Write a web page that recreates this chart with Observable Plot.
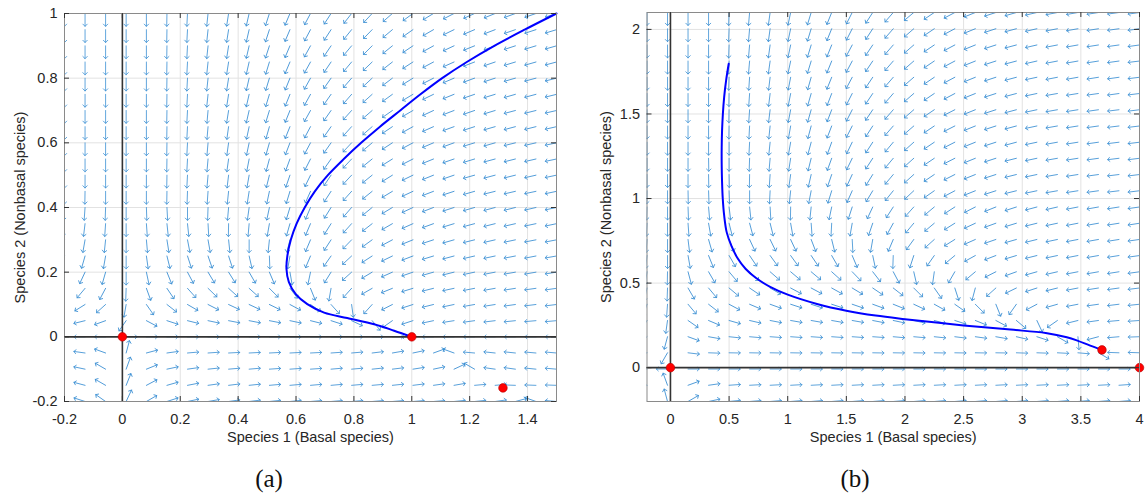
<!DOCTYPE html>
<html><head><meta charset="utf-8">
<script src="https://cdn.jsdelivr.net/npm/d3@7"></script>
<script src="https://cdn.jsdelivr.net/npm/@observablehq/plot@0.6"></script>
<style>
html,body{margin:0;padding:0;background:#fff}
body{width:1145px;height:499px;position:relative;overflow:hidden;font-family:"Liberation Sans",Arial,sans-serif}
#pa{position:absolute;left:0;top:0}
#pb{position:absolute;left:566px;top:0}
.cap{position:absolute;top:465px;font-family:"Liberation Serif","DejaVu Serif",serif;font-size:25px;color:#111;transform:translateX(-50%)}
</style></head><body>
<div id="pa"></div><div id="pb"></div>
<div class="cap" style="left:269px">(a)</div>
<div class="cap" style="left:855px">(b)</div>
<script>
// ---------- Panel (a) ----------
const xTicksA = [-0.2, 0, 0.2, 0.4, 0.6, 0.8, 1, 1.2, 1.4];
const yTicksA = [-0.2, 0, 0.2, 0.4, 0.6, 0.8, 1];
const gridXA = [-0.2,-0.129,-0.058,0.013,0.083,0.154,0.225,0.296,0.367,0.438,0.508,0.579,0.65,0.721,0.792,0.863,0.933,1.004,1.075,1.146,1.217,1.288,1.358,1.429,1.5];
const gridYA = [1,0.95,0.9,0.85,0.8,0.75,0.7,0.65,0.6,0.55,0.5,0.45,0.4,0.35,0.3,0.25,0.2,0.15,0.1,0.05,0,-0.05,-0.1,-0.15,-0.2];
// arrow directions (degrees clockwise from up), rows top -> bottom
const arrowsA = [
[180,180,180,180,180,181,183,186,189,193,198,203,208,213,218,223,229,234,239,243,246,248,250,251,252],
[180,180,180,180,180,181,183,186,189,193,198,203,208,213,219,224,230,235,240,244,247,249,251,252,253],
[180,180,180,180,180,181,183,186,189,193,198,203,209,214,220,225,231,236,241,245,248,250,252,253,254],
[180,180,180,180,180,181,183,186,189,193,197,203,209,214,220,226,232,237,242,246,249,251,253,254,255],
[180,180,180,180,180,181,183,186,189,193,197,202,209,215,221,227,233,238,243,247,250,252,254,255,256],
[180,180,180,180,180,181,183,186,189,193,197,202,209,215,221,228,234,239,244,248,251,253,254,255,256],
[180,180,180,180,180,181,183,185,189,193,197,202,209,215,222,229,235,240,245,249,251,253,255,256,257],
[180,180,180,180,180,181,183,185,188,192,196,202,208,215,222,229,236,241,246,250,252,254,255,256,257],
[180,180,180,180,180,181,183,185,188,192,196,201,208,215,223,230,237,242,247,250,253,254,256,257,258],
[180,180,180,180,180,181,183,185,188,191,195,200,207,215,223,231,238,243,248,251,253,255,256,257,258],
[180,180,180,180,180,181,183,185,187,190,194,199,206,214,223,231,238,244,248,251,254,255,256,257,258],
[181,181,180,180,180,181,182,184,186,189,192,197,204,213,222,231,239,245,249,252,254,256,257,258,258],
[185,184,182,180,178,177,180,182,185,188,192,197,203,212,221,231,239,245,249,252,254,255,256,257,258],
[188,187,184,180,176,174,174,177,181,185,190,196,203,212,222,232,240,246,250,253,255,256,257,258,258],
[192,190,186,180,175,171,169,170,174,180,186,194,203,213,224,234,242,248,252,254,256,257,258,259,259],
[198,196,190,180,172,166,162,161,162,167,178,190,203,215,227,237,244,249,253,255,257,258,259,259,260],
[207,205,196,180,168,158,152,149,148,150,157,170,192,212,228,239,246,251,254,256,258,259,260,260,261],
[222,220,208,182,160,146,138,134,132,132,135,142,158,190,222,240,248,253,256,258,259,260,261,262,262],
[240,238,228,190,145,128,120,117,115,115,116,118,124,138,172,222,243,252,256,258,260,261,262,263,263],
[258,256,250,215,118,108,104,102,101,101,101,102,104,108,115,140,235,252,258,261,262,263,264,265,265],
[270,270,270,90,90,90,90,90,90,90,90,90,90,90,90,90,90,270,270,270,270,270,270,270,270],
[276,278,290,15,75,82,85,86,87,87,87,87,87,86,85,83,80,78,70,290,275,276,276,275,275],
[277,282,300,20,68,78,82,84,85,85,86,86,86,85,85,84,83,81,78,65,300,278,278,276,275],
[279,285,300,22,62,74,79,82,83,84,85,85,85,85,85,85,84,83,82,80,85,85,272,272,272],
[280,288,305,25,60,72,78,80,82,83,84,84,85,85,85,85,85,85,85,84,84,82,75,290,275]
];
const trajXA = [1.5,1.39,1.285,1.19,1.105,1.03,0.96,0.89,0.825,0.765,0.71,0.665,0.63,0.602,0.582,0.57,0.567,0.575,0.599,0.639,0.697,0.777,0.87,0.939,1.0];
const trajYA = [1.0,0.95,0.9,0.85,0.8,0.75,0.7,0.65,0.6,0.55,0.5,0.45,0.4,0.35,0.3,0.25,0.21,0.17,0.132,0.101,0.075,0.058,0.039,0.019,0.0];
const eqXA = [0, 1, 1.315];
const eqYA = [0, 0, -0.158];

// ---------- Panel (b) ----------
const xTicksB = [0, 0.5, 1, 1.5, 2, 2.5, 3, 3.5, 4];
const yTicksB = [0, 0.5, 1, 1.5, 2];
const gridXB = [-0.2,-0.025,0.15,0.325,0.5,0.675,0.85,1.025,1.2,1.375,1.55,1.725,1.9,2.075,2.25,2.425,2.6,2.775,2.95,3.125,3.3,3.475,3.65,3.825,4];
const gridYB = [2.1,2.004,1.908,1.813,1.717,1.621,1.525,1.429,1.333,1.238,1.142,1.046,0.95,0.854,0.758,0.663,0.567,0.471,0.375,0.279,0.183,0.088,-0.008,-0.104,-0.2];
const arrowsB = [
[180,180,180,180,182,185,188,192,197,202,207,213,221,230,236,242,248,252,254,257,259,260,261,262,262],
[180,180,180,180,182,185,188,192,197,202,207,213,221,229,236,242,248,252,255,257,259,260,261,262,262],
[180,180,180,180,182,185,188,192,197,202,208,214,221,229,236,242,248,252,255,257,259,260,261,262,262],
[180,180,180,180,182,185,188,192,197,202,208,214,221,229,236,242,248,252,255,257,259,260,261,262,263],
[180,180,180,180,182,184,187,191,196,202,208,214,221,229,236,242,248,252,255,258,259,260,261,262,263],
[180,180,180,180,181,184,187,191,196,201,207,214,221,229,236,242,248,252,255,258,260,261,262,262,263],
[180,180,180,180,181,184,187,191,196,201,207,214,221,229,236,243,248,252,255,258,260,261,262,263,263],
[180,180,180,180,181,183,186,190,195,201,207,213,221,229,236,243,248,252,255,258,260,261,262,263,263],
[180,180,180,180,180,183,186,190,195,200,206,213,220,228,236,243,248,252,255,258,260,261,262,263,263],
[180,180,180,179,180,182,185,189,194,200,206,213,220,228,236,243,248,252,256,258,260,261,262,263,263],
[180,180,180,179,179,181,184,188,193,199,205,212,220,228,236,243,248,252,256,258,260,261,262,263,263],
[181,180,179,178,178,180,183,186,191,197,204,211,219,227,235,242,248,252,256,258,260,261,262,263,263],
[182,180,178,175,173,174,177,181,186,192,198,205,213,222,230,237,243,248,252,255,257,259,260,261,262],
[183,180,176,170,166,165,166,170,176,183,190,199,209,220,230,238,245,250,253,256,258,259,260,261,261],
[184,180,173,164,158,155,154,155,159,166,177,190,203,216,228,238,246,251,254,256,258,259,260,261,262],
[186,180,170,158,150,146,144,144,146,150,157,168,182,198,215,230,241,249,253,256,258,259,260,261,262],
[188,181,165,150,140,134,131,130,130,132,136,142,152,167,188,210,230,243,250,254,257,259,260,261,262],
[192,182,150,140,130,124,120,118,118,119,121,124,128,135,145,162,195,228,244,252,256,259,261,262,263],
[198,184,140,128,118,113,110,108,108,108,109,110,112,115,119,125,135,158,215,242,254,259,262,263,264],
[210,188,125,113,106,103,101,100,100,100,100,101,102,103,105,108,112,118,130,155,235,256,262,265,266],
[230,195,110,100,96,95,94,94,94,94,94,94,95,95,96,97,98,100,103,108,120,175,255,265,268],
[255,210,97,92,91,91,91,91,91,91,91,91,91,91,91,91,91,91,92,92,93,95,120,272,272],
[270,270,90,90,90,90,90,90,90,90,90,90,90,90,90,90,90,90,90,90,90,90,90,90,null],
[290,340,70,82,86,87,87,87,87,87,87,87,87,87,87,87,87,87,87,87,87,87,87,86,85],
[295,345,60,78,84,85,85,85,85,85,85,85,85,85,85,85,85,85,85,85,85,85,85,85,85]
];
const trajXB = [0.497,0.475,0.458,0.447,0.44,0.437,0.437,0.44,0.446,0.458,0.48,0.52,0.57,0.64,0.73,0.85,1.0,1.25,1.5,1.75,2.0,2.5,2.9,3.2,3.38,3.47,3.58,3.68];
const trajYB = [1.797,1.7,1.6,1.5,1.4,1.3,1.2,1.1,1.0,0.9,0.8,0.72,0.65,0.585,0.53,0.478,0.432,0.377,0.337,0.308,0.287,0.25,0.225,0.205,0.18,0.16,0.13,0.105];
const eqXB = [0, 4, 3.68];
const eqYB = [0, 0, 0.105];

const xLabel = "Species 1 (Basal species)";
const yLabel = "Species 2 (Nonbasal species)";

function panel(o) {
  const field = [];
  o.gy.forEach((y, r) => o.gx.forEach((x, c) => {
    const a = o.arrows[r][c];
    if (a != null) field.push({x, y, a});
  }));
  const traj = o.tx.map((x, i) => ({x, y: o.ty[i]}));
  const eq = o.ex.map((x, i) => ({x, y: o.ey[i]}));
  const fw = o.width - o.ml - o.mr, fh = o.height - o.mt - o.mb;
  const fmt = d => String(d);
  return Plot.plot({
    width: o.width, height: o.height,
    marginLeft: o.ml, marginRight: o.mr, marginTop: o.mt, marginBottom: o.mb,
    style: {fontFamily: "'Liberation Sans', Arial, sans-serif", fontSize: "14.5px", color: "#262626", background: "transparent", overflow: "visible"},
    x: {domain: o.xd},
    y: {domain: o.yd},
    marks: [
      Plot.gridX(o.xt, {stroke: "#e2e2e2", strokeOpacity: 1}),
      Plot.gridY(o.yt, {stroke: "#e2e2e2", strokeOpacity: 1}),
      Plot.vector(field, {x: "x", y: "y", rotate: "a",
        length: d => 13.5 + 2.2 * Math.abs(Math.cos(d.a * Math.PI / 180)),
        r: 3, anchor: "start", stroke: "#3a8fd3", strokeWidth: 0.8, clip: true}),
      Plot.ruleX([0], {stroke: "#333", strokeWidth: 1.6}),
      Plot.ruleY([0], {stroke: "#333", strokeWidth: 1.6}),
      Plot.line(traj, {x: "x", y: "y", stroke: "#0000ff", strokeWidth: 2, curve: "catmull-rom"}),
      Plot.dot(eq, {x: "x", y: "y", r: 4.3, fill: "#ff0000", stroke: "#b00000", strokeWidth: 0.6}),
      Plot.frame({stroke: "#8a8a8a", strokeWidth: 1}),
      Plot.tickX(o.xt, {x: d => d, insetTop: fh - 5, stroke: "#333"}),
      Plot.tickX(o.xt, {x: d => d, insetBottom: fh - 5, stroke: "#333"}),
      Plot.tickY(o.yt, {y: d => d, insetRight: fw - 5, stroke: "#333"}),
      Plot.tickY(o.yt, {y: d => d, insetLeft: fw - 5, stroke: "#333"}),
      Plot.axisX(o.xt, {tickSize: 0, tickPadding: 12, tickFormat: fmt, label: xLabel, labelAnchor: "center", labelArrow: "none", labelOffset: 40}),
      Plot.axisY(o.yt, {tickSize: 0, tickPadding: 7, tickFormat: fmt, label: yLabel, labelAnchor: "center", labelArrow: "none", labelOffset: o.ylo})
    ]
  });
}

document.getElementById("pa").appendChild(panel({
  width: 580, height: 460, ml: 64, mr: 24, mt: 13, mb: 59, ylo: 50,
  xd: [-0.2, 1.5], yd: [-0.2, 1], xt: xTicksA, yt: yTicksA,
  gx: gridXA, gy: gridYA, arrows: arrowsA, tx: trajXA, ty: trajYA, ex: eqXA, ey: eqYA
}));
document.getElementById("pb").appendChild(panel({
  width: 579, height: 460, ml: 80.5, mr: 6, mt: 12, mb: 59, ylo: 46,
  xd: [-0.2, 4], yd: [-0.2, 2.1], xt: xTicksB, yt: yTicksB,
  gx: gridXB, gy: gridYB, arrows: arrowsB, tx: trajXB, ty: trajYB, ex: eqXB, ey: eqYB
}));
</script>
</body></html>
